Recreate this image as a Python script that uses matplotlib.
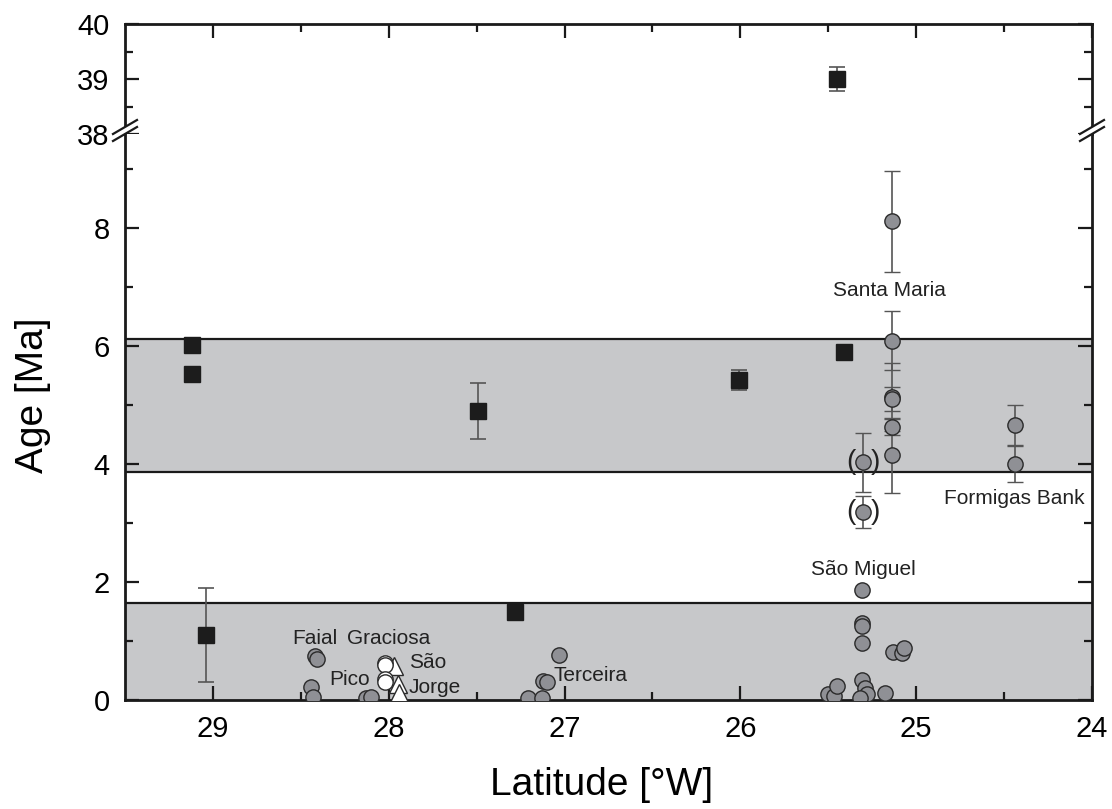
import matplotlib
matplotlib.use("Agg")
import matplotlib.pyplot as plt
from matplotlib.lines import Line2D
from matplotlib.patches import Polygon
import numpy as np

plt.rcParams['font.family'] = ['Liberation Sans', 'DejaVu Sans']

# black squares (lon, age, error)
sq_lon = [29.12, 29.12, 29.04, 27.49, 27.28, 26.01, 25.41]
sq_age = [6.02, 5.53, 1.10, 4.90, 1.49, 5.43, 5.90]
sq_err = [0.0, 0.0, 0.80, 0.48, 0.0, 0.17, 0.0]
old_lon = [25.45]
old_age = [39.0]
old_err = [0.22]

# gray circles with error bars (Santa Maria, Formigas, bracketed)
ge_lon = [25.14, 25.14, 25.14, 25.14, 25.14, 25.14, 25.30, 25.30, 24.44, 24.44]
ge_age = [8.12, 6.09, 5.14, 5.11, 4.63, 4.15, 4.03, 3.19, 4.66, 4.01]
ge_err = [0.86, 0.50, 0.57, 0.20, 0.14, 0.64, 0.50, 0.27, 0.35, 0.31]

# gray circles without error bars
g_lon = [28.42, 28.41, 28.44, 28.43, 28.13, 28.10,
         27.03, 27.12, 27.10, 27.21, 27.13,
         25.31, 25.31, 25.31, 25.31, 25.13, 25.08, 25.07,
         25.50, 25.47, 25.45, 25.31, 25.29, 25.28, 25.32, 25.18]
g_age = [0.74, 0.69, 0.22, 0.05, 0.04, 0.05,
         0.76, 0.32, 0.31, 0.04, 0.03,
         1.86, 1.30, 1.25, 0.96, 0.82, 0.80, 0.89,
         0.10, 0.06, 0.23, 0.34, 0.20, 0.11, 0.03, 0.12]

# Graciosa (open circles) and São Jorge (open triangles)
gr_lon = [27.97, 27.95, 27.94]
gr_age = [0.58, 0.27, 0.12]
oc_lon = [28.02, 28.02, 28.02, 28.02]
oc_age = [0.63, 0.60, 0.36, 0.30]

bands = [(3.87, 6.13), (0.0, 1.64)]

W, H = 1112, 809
fig = plt.figure(figsize=(W / 100, H / 100), dpi=100)

def fr(x0, y0, x1, y1):
    return [x0 / W, 1 - y1 / H, (x1 - x0) / W, (y1 - y0) / H]

ax_top = fig.add_axes(fr(125, 24, 1092, 134))
ax = fig.add_axes(fr(125, 134, 1092, 700))

face = '#8f9095'
edge = '#2a2a2a'
ecol = '#555555'

for a in (ax_top, ax):
    a.set_xlim(29.5, 24)
    for s in a.spines.values():
        s.set_linewidth(2.0)
        s.set_color('#1a1a1a')
    a.tick_params(which='both', direction='in', width=1.6, color='#1a1a1a',
                  labelsize=21, right=True)
    a.tick_params(which='major', length=10)
    a.tick_params(which='minor', length=6)
    a.set_xticks([29, 28, 27, 26, 25, 24])
    a.set_xticks(np.arange(24.5, 29.5, 1.0), minor=True)

ax_top.set_ylim(38, 40)
ax_top.set_yticks([38, 39, 40])
ax_top.set_yticks([38.5, 39.5], minor=True)
ax_top.spines['bottom'].set_visible(False)
ax_top.tick_params(which='both', bottom=False, top=True, labelbottom=False, pad=11)

ax.set_ylim(0, 9.6)
ax.set_yticks([0, 2, 4, 6, 8])
ax.set_yticks([1, 3, 5, 7, 9], minor=True)
ax.spines['top'].set_visible(False)
ax.tick_params(which='both', top=False, pad=11)
ax.tick_params(axis='x', which='both', pad=11)

for lo, hi in bands:
    ax.axhspan(lo, hi, facecolor='#c7c8ca', edgecolor='none', zorder=0)
    ax.axhline(hi, color='#1a1a1a', lw=1.6, zorder=1)
    if lo > 0:
        ax.axhline(lo, color='#1a1a1a', lw=1.6, zorder=1)

ax.errorbar(ge_lon, ge_age, yerr=ge_err, fmt='o', ms=11, mfc=face, mec=edge, mew=1,
            ecolor=ecol, elinewidth=1.2, capsize=6, capthick=1.2, zorder=3)
ax.plot(g_lon, g_age, 'o', ms=11, mfc=face, mec=edge, mew=1, zorder=3)
ax.plot(gr_lon, gr_age, '^', ms=13, mfc='white', mec=edge, mew=1, zorder=3)
ax.plot(oc_lon, oc_age, 'o', ms=11, mfc='white', mec=edge, mew=1, zorder=4)

sq_has = [e > 0 for e in sq_err]
ax.errorbar(np.array(sq_lon)[sq_has], np.array(sq_age)[sq_has],
            yerr=np.array(sq_err)[sq_has], fmt='none', ecolor=ecol,
            elinewidth=1.2, capsize=6, capthick=1.2, zorder=4)
ax.plot(sq_lon, sq_age, 's', ms=11.5, mfc='#1c1c1c', mec='#1c1c1c', zorder=5)

ax_top.errorbar(old_lon, old_age, yerr=old_err, fmt='s', ms=11.5, mfc='#1c1c1c',
                mec='#1c1c1c', ecolor=ecol, elinewidth=1.2, capsize=6, capthick=1.2)

fs = 15
ax.text(25.15, 6.95, 'Santa Maria', fontsize=fs, ha='center', va='center', color='#222222')
ax.text(24.44, 3.42, 'Formigas Bank', fontsize=fs, ha='center', va='center', color='#222222')
ax.text(25.30, 2.22, 'São Miguel', fontsize=fs, ha='center', va='center', color='#222222')
ax.text(26.85, 0.42, 'Terceira', fontsize=fs, ha='center', va='center', color='#222222')
ax.text(28.42, 1.05, 'Faial', fontsize=fs, ha='center', va='center', color='#222222')
ax.text(28.00, 1.05, 'Graciosa', fontsize=fs, ha='center', va='center', color='#222222')
ax.text(28.22, 0.34, 'Pico', fontsize=fs, ha='center', va='center', color='#222222')
ax.text(27.78, 0.63, 'São', fontsize=fs, ha='center', va='center', color='#222222')
ax.text(27.74, 0.22, 'Jorge', fontsize=fs, ha='center', va='center', color='#222222')
for y in (4.03, 3.19):
    ax.text(25.37, y, '(', fontsize=20, ha='center', va='center', color='#222222')
    ax.text(25.23, y, ')', fontsize=20, ha='center', va='center', color='#222222')

fig.text(602 / W, 1 - 785 / H, 'Latitude [°W]', fontsize=28, ha='center', va='center')
fig.text(33 / W, 1 - 395 / H, 'Age [Ma]', fontsize=28, ha='center', va='center', rotation=90)

# axis break marks
for x0 in (125, 1092):
    gap = Polygon([[(x0 - 12) / W, 1 - 141 / H], [(x0 + 12) / W, 1 - 127 / H],
                   [(x0 + 12) / W, 1 - 120 / H], [(x0 - 12) / W, 1 - 134 / H]],
                  closed=True, transform=fig.transFigure, facecolor='white',
                  edgecolor='none', zorder=10)
    fig.add_artist(gap)
    for dy in (0, 7):
        fig.add_artist(Line2D([(x0 - 12) / W, (x0 + 12) / W],
                              [1 - (141 - dy) / H, 1 - (127 - dy) / H],
                              transform=fig.transFigure, color='#1a1a1a', lw=1.6, zorder=11))

fig.savefig('out.png', dpi=100)
